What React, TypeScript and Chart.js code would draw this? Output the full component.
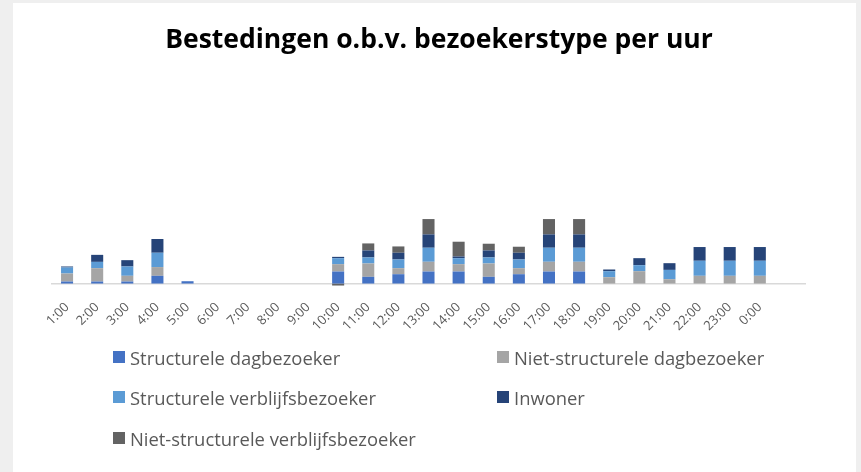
import React, { useEffect, useRef } from "react";
import { Chart, registerables } from "chart.js";

Chart.register(...registerables);

const hours = ["1:00","2:00","3:00","4:00","5:00","6:00","7:00","8:00","9:00","10:00","11:00","12:00","13:00","14:00","15:00","16:00","17:00","18:00","19:00","20:00","21:00","22:00","23:00","0:00",""];

const structureleDag = [2, 2, 2, 7.7, 2.3, 0, 0, 0, 0, 12, 6.7, 9.3, 12, 12, 6.7, 9.3, 12, 12, 0, 0, 0, 0, 0, 0, 0];
const nietStructureleDag = [8, 13.3, 5.7, 8.7, 0, 0, 0, 0, 0, 7.3, 13.3, 6, 9.7, 7.3, 13.3, 6, 9.7, 9.7, 6.3, 12.3, 4.3, 7.7, 7.7, 7.7, 0];
const structureleVerblijf = [6, 6.3, 9.3, 14.3, 0, 0, 0, 0, 0, 6, 6, 8.7, 14, 6, 6, 8.7, 14, 14, 6, 6, 9.3, 15, 15, 15, 0];
const inwoner = [1, 7, 6.3, 13.7, 0, 0, 0, 0, 0, 1.3, 7, 6.7, 13.3, 1.7, 7, 6.7, 13.3, 13.3, 1.7, 7, 6.7, 13.7, 13.7, 13.7, 0];
const nietStructureleVerblijf = [0, 0, 0, 0, 0, 0, 0, 0, 0, -2, 7, 6.3, 15.3, 14.7, 6.7, 6, 15.3, 15.3, 0, 0, 0, 0, 0, 0, 0];

const seriesNames = [
  "Structurele dagbezoeker",
  "Niet-structurele dagbezoeker",
  "Structurele verblijfsbezoeker",
  "Inwoner",
  "Niet-structurele verblijfsbezoeker",
];
const seriesColors = ["#4472C4", "#A5A5A5", "#5B9BD5", "#264478", "#636363"];
const seriesData = [structureleDag, nietStructureleDag, structureleVerblijf, inwoner, nietStructureleVerblijf];

const titleText = "Bestedingen o.b.v. bezoekerstype per uur";

const FONT = "'Open Sans', sans-serif";

export default function App() {
  const ref = useRef<HTMLCanvasElement | null>(null);

  useEffect(() => {
    if (!ref.current) return;
    const chart = new Chart(ref.current, {
      type: "bar",
      data: {
        labels: hours,
        datasets: seriesNames.map((name, i) => ({
          label: name,
          data: seriesData[i],
          backgroundColor: seriesColors[i],
          borderWidth: 0,
          categoryPercentage: 1,
          barPercentage: 0.4,
          clip: false as any,
        })),
      },
      options: {
        animation: false,
        responsive: false,
        maintainAspectRatio: false,
        layout: { padding: { left: 52, right: 56, top: 83, bottom: 122 } },
        plugins: {
          legend: { display: false },
          tooltip: { enabled: false },
          title: { display: false },
        },
        scales: {
          x: {
            stacked: true,
            grid: { display: false, drawTicks: false },
            border: { display: true, color: "#D9D9D9", width: 1.5 },
            ticks: {
              autoSkip: false,
              maxRotation: 45,
              minRotation: 45,
              color: "#595959",
              padding: 16,
              font: { family: FONT, size: 13 },
            },
          },
          y: {
            stacked: true,
            display: false,
            min: 0,
            max: 200,
          },
        },
      },
    });
    return () => chart.destroy();
  }, []);

  const legendPos = [
    { x: 113, y: 351 },
    { x: 497, y: 351 },
    { x: 113, y: 391 },
    { x: 497, y: 391 },
    { x: 113, y: 432 },
  ];

  return (
    <div style={{ position: "absolute", left: 0, top: 0, width: 861, height: 472, background: "#EFEFEF", overflow: "hidden" }}>
      <div style={{ position: "absolute", left: 13, top: 3, width: 843, height: 469, background: "#FFFFFF" }} />
      <canvas ref={ref} width={861} height={472} style={{ position: "absolute", left: 0, top: 0, width: 861, height: 472 }} />
      <div style={{ position: "absolute", left: 39, width: 800, top: 20, height: 36, lineHeight: "36px", textAlign: "center", fontFamily: FONT, fontWeight: 700, fontSize: 26.5, color: "#000000", whiteSpace: "nowrap" }}>
        {titleText}
      </div>
      {seriesNames.map((name, i) => (
        <div key={name} style={{ position: "absolute", left: legendPos[i].x, top: legendPos[i].y - 6, height: 24, display: "flex", alignItems: "center", fontFamily: FONT, fontSize: 18.4, color: "#595959", whiteSpace: "nowrap" }}>
          <span style={{ display: "inline-block", width: 12, height: 12, background: seriesColors[i], marginRight: 5 }} />
          <span>{name}</span>
        </div>
      ))}
    </div>
  );
}
